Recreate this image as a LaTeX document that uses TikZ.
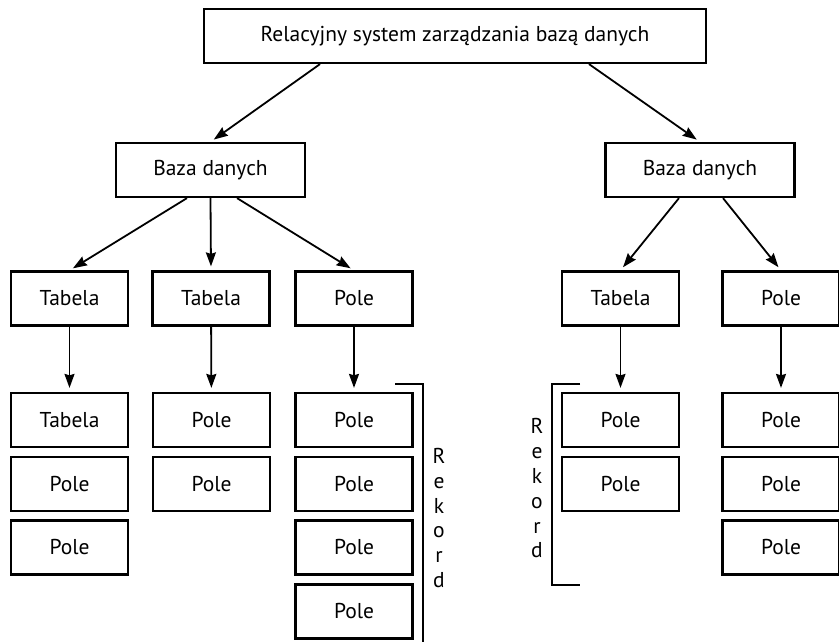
\documentclass[tikz,border=0pt]{standalone}
\usepackage{fontspec}
\setmainfont{PT Sans}
\usepackage{tikz}
\usetikzlibrary{arrows.meta, positioning}

\begin{document}
\begin{tikzpicture}[
        x=1pt, y=-1pt,
        box/.style={rectangle, draw, line width=2.2pt, inner sep=0pt,
            minimum height=54pt, minimum width=117pt,
            font=\fontsize{21.5}{26}\selectfont},
        arrow/.style={-{Stealth[length=14pt, width=10pt, inset=1.5pt]},
            line width=1.8pt, shorten >=4pt},
        bracket/.style={line width=1.8pt},
        rekord/.style={align=center, inner sep=0pt,
            font=\fontsize{21.5}{24.8}\selectfont}
    ]
        \useasboundingbox (0,0) rectangle (839,642);
        % top level
        \node[box, minimum width=502pt] (rdbms) at (455,36) {Relacyjny system zarządzania bazą danych};
        \node[box, minimum width=189pt] (dbL) at (210.5,170) {Baza danych};
        \node[box, minimum width=189pt] (dbR) at (700,170) {Baza danych};
        % third row
        \node[box] (t1) at (69.5,298.5) {Tabela};
        \node[box] (t2) at (211,298.5) {Tabela};
        \node[box] (t3) at (354,298.5) {Pole};
        \node[box] (t4) at (620.5,298.5) {Tabela};
        \node[box] (t5) at (781,298.5) {Pole};
        % lower rows
        \node[box] (a1) at (69.5,420) {Tabela};
        \node[box] (a2) at (69.5,484) {Pole};
        \node[box] (a3) at (69.5,547.5) {Pole};
        \node[box] (b1) at (211.5,420) {Pole};
        \node[box] (b2) at (211.5,484) {Pole};
        \node[box] (c1) at (354,420) {Pole};
        \node[box] (c2) at (354,484) {Pole};
        \node[box] (c3) at (354,547.5) {Pole};
        \node[box] (c4) at (354,611.5) {Pole};
        \node[box] (d1) at (620.5,420) {Pole};
        \node[box] (d2) at (620.5,484) {Pole};
        \node[box] (e1) at (781,420) {Pole};
        \node[box] (e2) at (781,484) {Pole};
        \node[box] (e3) at (781,547.5) {Pole};
        % arrows
        \draw[arrow] ([xshift=-135pt]rdbms.south) -- (dbL.north);
        \draw[arrow] ([xshift=134pt]rdbms.south) -- (dbR.north);
        \draw[arrow] ([xshift=-23.5pt]dbL.south) -- (t1.north);
        \draw[arrow] (dbL.south) -- (t2.north);
        \draw[arrow] ([xshift=26.5pt]dbL.south) -- (t3.north);
        \draw[arrow] ([xshift=-21pt]dbR.south) -- (t4.north);
        \draw[arrow] ([xshift=23pt]dbR.south) -- (t5.north);
        \draw[arrow] (t1) -- (a1);
        \draw[arrow] (t2) -- (b1);
        \draw[arrow] (t3) -- (c1);
        \draw[arrow] (t4) -- (d1);
        \draw[arrow] (t5) -- (e1);
        % records
        \draw[bracket] (395,384) -- (423,384) -- (423,642);
        \node[rekord] (recL) at (439,518) {R\\e\\k\\o\\r\\d};
        \draw[bracket] (580,384) -- (552,384) -- (552,585) -- (580,585);
        \node[rekord] (recR) at (537,488.5) {R\\e\\k\\o\\r\\d};
    \end{tikzpicture}
\end{document}
